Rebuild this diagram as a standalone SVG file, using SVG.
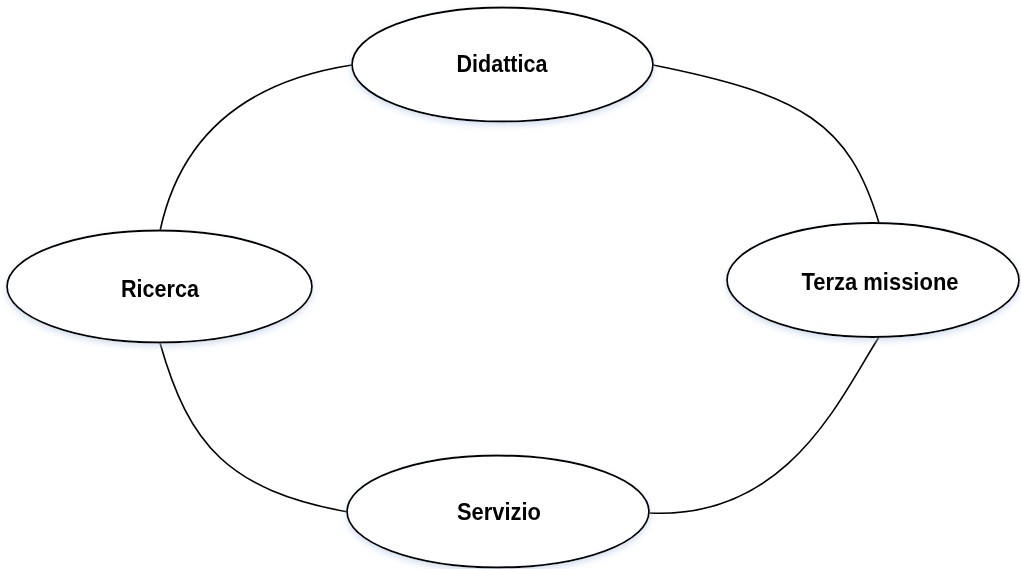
<svg xmlns="http://www.w3.org/2000/svg" width="1021" height="569" viewBox="0 0 1021 569">
  <defs>
    <filter id="glow" x="-10%" y="-20%" width="120%" height="150%">
      <feGaussianBlur in="SourceAlpha" stdDeviation="3" result="b"/>
      <feOffset in="b" dx="0" dy="3" result="o"/>
      <feFlood flood-color="#b9cbe6" flood-opacity="0.6"/>
      <feComposite in2="o" operator="in" result="s"/>
      <feMerge><feMergeNode in="s"/><feMergeNode in="SourceGraphic"/></feMerge>
    </filter>
  </defs>
  <style>
    .node ellipse { fill: #ffffff; stroke: #000000; stroke-width: 1.8; }
    .node text { font-family: "Liberation Sans", Arial, sans-serif; font-weight: bold; font-size: 24px; fill: #000000; text-anchor: middle; }
    .conn path { fill: none; stroke: #000000; stroke-width: 1.6; }
  </style>
  <rect width="1021" height="569" fill="#ffffff"/>
  <g id="connectors" class="conn">
    <path d="M352,65 Q190,90 160,231"/>
    <path d="M653,65 C803,95 849,123 879,223"/>
    <path d="M160,343 C189,445 228,490 348,512"/>
    <path d="M879,337 C840,398 788,520 649,513"/>
  </g>
  <g id="node-didattica" class="node" filter="url(#glow)">
    <ellipse cx="502.5" cy="64.5" rx="150.5" ry="57"/>
    <text x="502" y="71.5" textLength="91" lengthAdjust="spacingAndGlyphs">Didattica</text>
  </g>
  <g id="node-ricerca" class="node" filter="url(#glow)">
    <ellipse cx="159.5" cy="286.5" rx="152.5" ry="56"/>
    <text x="160" y="296.5" textLength="78" lengthAdjust="spacingAndGlyphs">Ricerca</text>
  </g>
  <g id="node-terza" class="node" filter="url(#glow)">
    <ellipse cx="873" cy="280" rx="146" ry="57"/>
    <text x="880" y="290" textLength="157" lengthAdjust="spacingAndGlyphs">Terza missione</text>
  </g>
  <g id="node-servizio" class="node" filter="url(#glow)">
    <ellipse cx="498" cy="511.5" rx="151" ry="56"/>
    <text x="499" y="520" textLength="84" lengthAdjust="spacingAndGlyphs">Servizio</text>
  </g>
</svg>
